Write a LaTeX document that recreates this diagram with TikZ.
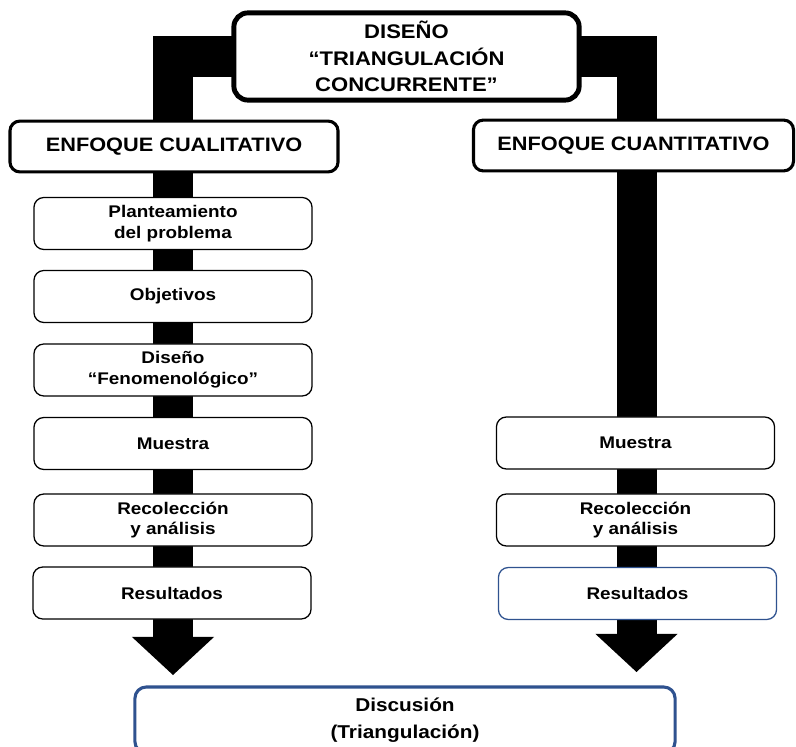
\documentclass[tikz,border=0pt]{standalone}
\usepackage{fontspec}
\setmainfont[FakeStretch=1.12]{Liberation Sans}
\usetikzlibrary{arrows.meta,backgrounds}
\definecolor{discblue}{RGB}{47,82,143}

\begin{document}
\begin{tikzpicture}[x=0.025cm,y=-0.025cm,
    bar/.style={line width=1cm,-{Triangle[width=2.05cm,length=0.95cm,line width=0pt]}},
    topbox/.style={draw,line width=3.5pt,rounded corners=10pt,fill=white,align=center,minimum width=8.63cm,minimum height=2.18cm,font=\fontsize{14}{19}\selectfont\bfseries},
    enfbox/.style={draw,line width=2.2pt,rounded corners=7pt,fill=white,minimum height=1.27cm,font=\fontsize{13.8}{16}\selectfont\bfseries},
    stepbox/.style={draw,line width=0.9pt,rounded corners=7pt,fill=white,align=center,minimum width=6.95cm,minimum height=1.3cm,font=\fontsize{12}{14.7}\selectfont\bfseries},
    discbox/.style={draw=discblue,line width=2.2pt,rounded corners=8pt,fill=white,align=center,minimum width=13.5cm,minimum height=1.65cm,font=\fontsize{13.2}{19}\selectfont\bfseries}]
    \useasboundingbox (0,0) rectangle (796,747);
    \clip (0,0) rectangle (796,747);
    \node[topbox] (top) at (406.5,56.5) {DISEÑO\\“TRIANGULACIÓN\\CONCURRENTE”};
    \node[enfbox,minimum width=8.2cm] (cual) at (174,146.5) {ENFOQUE CUALITATIVO};
    \node[enfbox,minimum width=8cm] (cuan) at (633.5,145.5) {ENFOQUE CUANTITATIVO};
    \node[stepbox] (plan) at (173,223.5) {Planteamiento\\del problema};
    \node[stepbox] (obj) at (173,296.5) {Objetivos};
    \node[stepbox] (dis) at (173,370) {Diseño\\“Fenomenológico”};
    \node[stepbox] (muesL) at (173,443.5) {Muestra};
    \node[stepbox] (recL) at (173,520) {Recolección\\y análisis};
    \node[stepbox] (resL) at (172,593) {Resultados};
    \node[stepbox] (muesR) at (635.5,443) {Muestra};
    \node[stepbox] (recR) at (635.5,520) {Recolección\\y análisis};
    \node[stepbox,draw=discblue] (resR) at (637.5,593.5) {Resultados};
    \node[discbox] (disc) at (405,720) {Discusión\\(Triangulación)};
    \coordinate (tipL) at (173,675);
    \coordinate (tipR) at (636.5,672);
    \begin{scope}[on background layer]
        \draw[bar] (top.center) -| (tipL);
        \draw[bar] (top.center) -| (tipR);
    \end{scope}
\end{tikzpicture}
\end{document}
